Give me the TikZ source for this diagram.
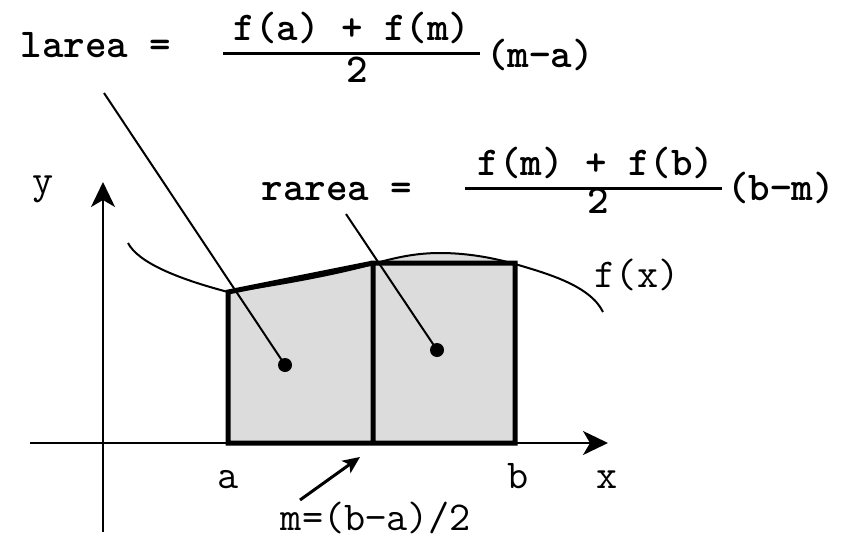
\documentclass[tikz,border=0pt]{standalone}
\usepackage{fontspec}
\usetikzlibrary{arrows.meta}
\begin{document}
\begin{tikzpicture}[x=1pt,y=-1pt,
  lbl/.style={inner sep=0pt,anchor=base,font=\ttfamily\fontsize{41}{44}\selectfont},
  blbl/.style={inner sep=0pt,anchor=base,font=\ttfamily\bfseries\fontsize{41}{44}\selectfont},
  axis/.style={line width=2.2pt,-{Stealth[length=25pt,width=24pt,inset=7pt]}},
  outline/.style={line width=5pt,line join=miter,line cap=rect},
  fx/.style={line width=2pt},
  leader/.style={line width=2pt},
  dot/.style={circle,fill=black,inner sep=0pt,minimum size=14pt},
  fracbar/.style={line width=3pt}]
\useasboundingbox (0,0) rectangle (843,538);
\definecolor{areagray}{RGB}{220,220,220}
% filled area under f between a and b
\fill[areagray] (228,443) -- (228,292) .. controls (265,287) and (330,276) .. (373,264)
  .. controls (400,256) and (420,253) .. (440,253)
  .. controls (465,253) and (490,257) .. (515,264) -- (515,443) -- cycle;
% axes
\coordinate (ybot) at (103,532);
\coordinate (ytop) at (103,182);
\coordinate (xleft) at (30,443);
\coordinate (xright) at (608,443);
\draw[axis] (ybot) -- (ytop);
\draw[axis] (xleft) -- (xright);
% curve f(x)
\draw[fx] (128,243) .. controls (138,262) and (175,278) .. (228,292)
  .. controls (265,287) and (330,276) .. (373,264)
  .. controls (400,256) and (420,253) .. (440,253)
  .. controls (465,253) and (490,257) .. (515,264)
  .. controls (545,273) and (590,285) .. (603,312);
% trapezoid outlines
\coordinate (A0) at (228,443);
\coordinate (A1) at (228,292);
\coordinate (M1) at (373,263);
\coordinate (M0) at (373,443);
\coordinate (B1) at (515,263);
\coordinate (B0) at (515,443);
\draw[outline] (M0) -- (A0) -- (A1) -- (M1) -- (B1) -- (B0) -- (M0) -- (M1);
% dots and leaders
\node[dot] (ldot) at (285,365) {};
\node[dot] (rdot) at (437,350) {};
\coordinate (ltop) at (104,93);
\coordinate (rtop) at (346,214);
\draw[leader] (ltop) -- (ldot.center);
\draw[leader] (rtop) -- (rdot.center);
% formula larea
\node[blbl] (larea) at (96,57) {larea =};
\node[blbl] (num1) at (352,40) {f(a) + f(m)};
\node[blbl] (den1) at (357,82) {2};
\node[blbl] (fac1) at (540,67) {(m−a)};
\draw[fracbar] (223,53) -- (480,53);
% formula rarea
\node[blbl] (rarea) at (337,200) {rarea =};
\node[blbl] (num2) at (596,175) {f(m) + f(b)};
\node[blbl] (den2) at (598,213) {2};
\node[blbl] (fac2) at (781,200) {(b−m)};
\draw[fracbar] (465,188) -- (722,188);
% axis labels
\node[lbl] (ylab) at (43,193) {y};
\node[lbl] (alab) at (228,488) {a};
\node[lbl] (blab) at (518,488) {b};
\node[lbl] (xlab) at (607,488) {x};
\node[lbl] (flab) at (637,287) {f(x)};
\node[lbl] (mlab) at (376,530) {m=(b−a)/2};
% small arrow to m
\coordinate (mtail) at (300,500);
\coordinate (mhead) at (360,457);
\draw[line width=3pt,-{Stealth[length=17pt,width=15pt,inset=4pt]}] (mtail) -- (mhead);
\end{tikzpicture}
\end{document}
